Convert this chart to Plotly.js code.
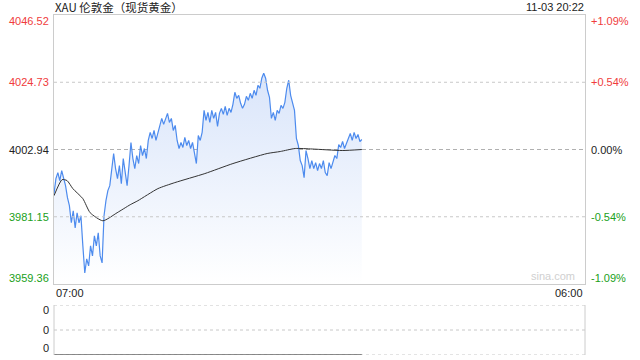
<!DOCTYPE html>
<html>
<head>
<meta charset="utf-8">
<script src="https://cdn.plot.ly/plotly-3.0.1.min.js"></script>
<style>html,body{margin:0;padding:0;background:#fff;}#chart{width:640px;height:360px;}</style>
</head>
<body>
<div id="chart"></div>
<script>
// ---- data ----
const titleText = "XAU 伦敦金（现货黄金）";
const stampText = "11-03 20:22";
const stepMinutes = 5; // sampling step of the price series, minutes after 07:00
const prices = [
3988.63,3993.51,3995.46,3992.86,3996.11,3993.51,3991.23,3987.33,3984.73,3979.20,
3983.10,3977.57,3982.45,3979.20,3981.48,3971.72,3962.94,3967.49,3965.22,3971.72,
3968.47,3974.97,3971.72,3975.95,3968.47,3966.19,3981.48,3986.35,3989.61,3991.23,
3996.11,4001.64,3996.76,3993.51,3997.74,3991.88,4000.01,3996.11,3991.23,3997.74,
4005.22,4000.01,3996.76,4000.99,3998.39,4004.24,4000.99,4003.27,4000.01,4005.87,
4008.47,4006.52,4009.12,4005.87,4008.14,4010.74,4013.02,4011.07,4013.02,4014.65,
4011.72,4013.02,4009.12,4010.74,4005.87,4003.27,4005.22,4003.59,4006.84,4004.24,
4005.87,4003.27,4005.22,4001.96,3998.39,4007.49,4005.87,4008.47,4015.62,4012.37,
4014.97,4011.72,4015.62,4013.02,4014.97,4010.42,4014.65,4016.27,4014.32,4016.92,
4014.00,4016.27,4014.97,4017.57,4021.48,4019.53,4020.50,4017.90,4016.27,4017.57,
4020.18,4018.87,4021.15,4019.53,4022.13,4020.50,4023.75,4022.78,4026.03,4027.66,
4026.03,4022.13,4019.85,4013.02,4014.97,4012.37,4015.62,4014.65,4017.25,4016.27,
4018.22,4022.78,4025.38,4020.50,4018.22,4015.62,4006.52,4004.24,3999.36,3997.74,
3993.83,4002.61,4000.01,3996.76,3999.36,3996.76,3998.71,3996.11,3998.39,3996.76,
3999.36,3995.46,3994.48,3998.71,3996.76,3999.36,4000.99,4000.01,4004.57,4003.59,
4005.54,4003.27,4004.89,4006.52,4008.14,4005.87,4008.47,4006.52,4007.82,4005.54,
4006.19
];
const priceTimes = prices.map((_, i) => i * stepMinutes);
const avgTimes  = [0, 21, 34, 49, 75, 94, 127, 164, 198, 218, 270, 314, 392, 465, 554, 588, 627, 671, 749, 800];
const avgPrices = [3987.98,3993.18,3992.86,3990.26,3987.01,3982.45,3979.85,3982.45,3985.05,3986.35,
                   3990.26,3992.21,3995.14,3998.39,4001.64,4002.29,4003.27,4003.10,4002.61,4002.94];
const volTimes = [0, 800];
const volValues = [0, 0];
const sessionEnd = 1380; // 07:00 -> 06:00 next day
const prevClose = 4002.94;
const priceTicks = [4046.52, 4024.73, 4002.94, 3981.15, 3959.36];
const pctTicks = ["+1.09%", "+0.54%", "0.00%", "-0.54%", "-1.09%"];
const timeLabels = ["07:00", "06:00"];
const volLabels = ["0", "0", "0"];

// ---- styling ----
const RED = "#f03c3c", GREEN = "#20a020", BLACK = "#222";
const font = "Arial, 'Liberation Sans', 'Noto Sans CJK SC', sans-serif";
const tickColor = v => v > prevClose ? RED : (v < prevClose ? GREEN : BLACK);
const yMin = priceTicks[priceTicks.length - 1], yMax = priceTicks[0];

const traces = [
  {x: priceTimes, y: prices, type: "scatter", mode: "lines", xaxis: "x", yaxis: "y",
   line: {color: "#4d8bee", width: 1.2}, fill: "tozeroy",
   fillgradient: {type: "vertical", start: yMin, stop: 4030,
     colorscale: [[0, "rgba(255,255,255,1)"], [1, "rgba(216,228,250,1)"]]},
   hoverinfo: "skip"},
  {x: avgTimes, y: avgPrices, type: "scatter", mode: "lines", xaxis: "x", yaxis: "y",
   line: {color: "#333", width: 1, shape: "spline", smoothing: 0.6}, hoverinfo: "skip"},
  {x: volTimes, y: volValues, type: "scatter", mode: "lines", xaxis: "x2", yaxis: "y2",
   line: {color: "#666", width: 1.5}, hoverinfo: "skip", cliponaxis: false}
];

const annotations = [];
// left price labels
const yLabelShift = [-6, 0, 0, 0, 6];
priceTicks.forEach((v, i) => {
  annotations.push({xref: "paper", yref: "y", x: 0, y: v, text: v.toFixed(2), showarrow: false,
    xanchor: "right", xshift: -3, yshift: yLabelShift[i], font: {family: font, size: 11, color: tickColor(v)}});
  annotations.push({xref: "paper", yref: "y", x: 1, y: v, text: pctTicks[i], showarrow: false,
    xanchor: "left", xshift: 4, yshift: yLabelShift[i], font: {family: font, size: 11, color: tickColor(v)}});
});
// time labels
annotations.push({xref: "paper", yref: "paper", x: 0, y: 0.2088, text: timeLabels[0], showarrow: false,
  xanchor: "left", yanchor: "top", yshift: -1, font: {family: font, size: 11, color: BLACK}});
annotations.push({xref: "paper", yref: "paper", x: 1, y: 0.2088, text: timeLabels[1], showarrow: false,
  xanchor: "right", yanchor: "top", yshift: -1, font: {family: font, size: 11, color: BLACK}});
// volume labels
const volLabelY = [2, 1, 0], volShift = [-5, 0, 7];
volLabels.forEach((t, i) => annotations.push({xref: "paper", yref: "y2", x: 0, y: volLabelY[i], text: t,
  showarrow: false, xanchor: "right", xshift: -3, yshift: volShift[i], font: {family: font, size: 11, color: BLACK}}));
// title + stamp
annotations.push({xref: "paper", yref: "paper", x: 0, y: 1, text: titleText, showarrow: false,
  xanchor: "left", yanchor: "middle", yshift: 8, borderpad: 0,
  font: {family: "'Noto Sans CJK SC', Arial, sans-serif", size: 11.5, color: "#222"}});
annotations.push({xref: "paper", yref: "paper", x: 1, y: 1, text: stampText, showarrow: false,
  xanchor: "right", yanchor: "middle", yshift: 8, borderpad: 0, font: {family: font, size: 11, color: "#222"}});
// watermark
annotations.push({xref: "paper", yref: "y", x: 0.985, y: yMin, text: "sina.com", showarrow: false,
  xanchor: "right", yanchor: "bottom", yshift: 0, font: {family: font, size: 11, color: "#d0d0d0"}});

const shapes = [
  // dotted price gridlines
  {type: "line", xref: "x domain", yref: "y", x0: 0, x1: 1, y0: priceTicks[1], y1: priceTicks[1], line: {color: "#c8c8c8", width: 1, dash: "dot"}},
  {type: "line", xref: "x domain", yref: "y", x0: 0, x1: 1, y0: priceTicks[3], y1: priceTicks[3], line: {color: "#c8c8c8", width: 1, dash: "dot"}},
  {type: "line", xref: "x domain", yref: "y", x0: 0, x1: 1, y0: prevClose, y1: prevClose, line: {color: "#b0b0b0", width: 1, dash: "4px,3px"}, layer: "below"},
  // volume panel frame
  {type: "line", xref: "x domain", yref: "y2", x0: 0, x1: 1, y0: 2, y1: 2, line: {color: "#c8c8c8", width: 1, dash: "dot"}},
  {type: "line", xref: "x domain", yref: "y2", x0: 0, x1: 1, y0: 1, y1: 1, line: {color: "#c8c8c8", width: 1, dash: "dot"}},
  {type: "line", xref: "x domain", yref: "y2", x0: 0, x1: 1, y0: 0, y1: 0, line: {color: "#c8c8c8", width: 1, dash: "dot"}, layer: "below"},
  {type: "line", xref: "x domain", yref: "y2", x0: 0, x1: 0, y0: 0, y1: 2, line: {color: "#cccccc", width: 1}},
  {type: "line", xref: "x domain", yref: "y2", x0: 1, x1: 1, y0: 0, y1: 2, line: {color: "#cccccc", width: 1}}
];

const layout = {
  width: 640, height: 360,
  margin: {l: 54, r: 55, t: 15, b: 5, pad: 0},
  paper_bgcolor: "#fff", plot_bgcolor: "#fff",
  showlegend: false,
  xaxis: {domain: [0, 1], range: [0, sessionEnd], anchor: "y", showgrid: false, zeroline: false,
    showticklabels: false, ticks: "", showline: true, mirror: true, linecolor: "#cccccc", linewidth: 1, fixedrange: true},
  yaxis: {domain: [0.2088, 1], range: [yMin, yMax], showgrid: false, zeroline: false,
    showticklabels: false, ticks: "", showline: true, mirror: true, linecolor: "#cccccc", linewidth: 1, fixedrange: true},
  xaxis2: {domain: [0, 1], range: [0, sessionEnd], anchor: "y2", showgrid: false, zeroline: false,
    showticklabels: false, ticks: "", showline: false, fixedrange: true},
  yaxis2: {domain: [0, 0.147], range: [0, 2], anchor: "x2", showgrid: false, zeroline: false,
    showticklabels: false, ticks: "", showline: false, fixedrange: true},
  annotations: annotations,
  shapes: shapes
};

Plotly.newPlot("chart", traces, layout, {staticPlot: true, displayModeBar: false});
</script>
</body>
</html>
